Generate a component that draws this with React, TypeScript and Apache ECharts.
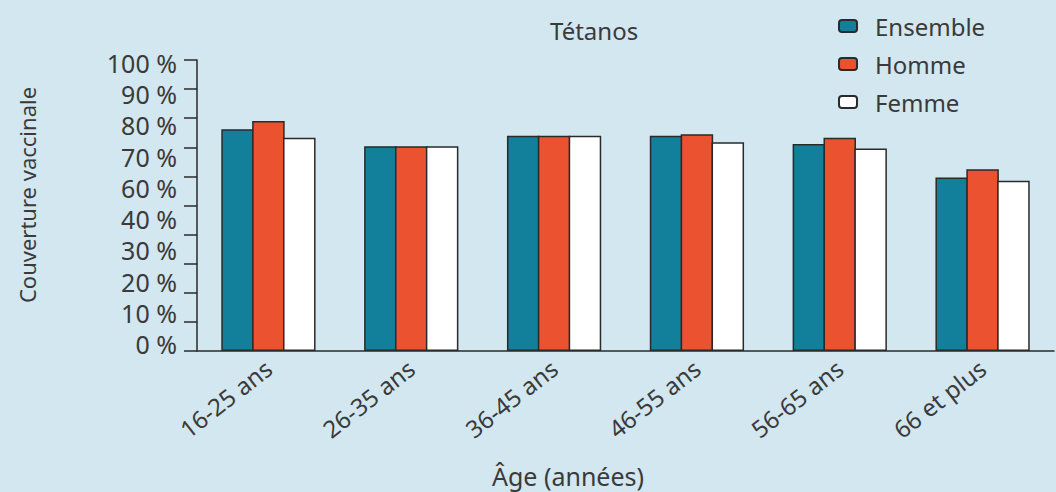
import React, { useEffect, useRef } from "react";
import * as echarts from "echarts";

const categories = ["16-25 ans", "26-35 ans", "36-45 ans", "46-55 ans", "56-65 ans", "66 et plus"];
const ensemble = [76.2, 70.4, 74.0, 74.0, 71.1, 59.6];
const homme = [79.0, 70.4, 74.0, 74.5, 73.3, 62.5];
const femme = [73.3, 70.4, 74.0, 71.7, 69.6, 58.5];
const yTickLabels = ["0 %", "10 %", "20 %", "30 %", "40 %", "60 %", "70 %", "80 %", "90 %", "100 %"];
const seriesNames = ["Ensemble", "Homme", "Femme"];
const chartTitle = "Tétanos";
const yAxisTitle = "Couverture vaccinale";
const xAxisTitle = "Âge (années)";

const FONT = "Noto Sans";
const TEXT = "#3a3a3a";
const LINE = "#2a2a2a";

export default function App() {
  const ref = useRef<HTMLDivElement>(null);
  useEffect(() => {
    if (!ref.current) return;
    const chart = echarts.init(ref.current, null, { renderer: "svg" });
    const barStyle = (color: string) => ({ color, borderColor: LINE, borderWidth: 1.5 });
    chart.setOption({
      animation: false,
      backgroundColor: "#d2e7f0",
      textStyle: { fontFamily: FONT, color: TEXT },
      legend: {
        orient: "vertical",
        left: 833,
        top: 8,
        itemWidth: 18,
        itemHeight: 12,
        itemGap: 12,
        data: seriesNames,
        textStyle: { fontFamily: FONT, fontSize: 24, color: TEXT, lineHeight: 26, padding: [0, 0, 0, 13] },
      },
      grid: [
        { left: 197, right: 2, top: 60, bottom: 141 },
        { left: 197, right: 2, top: 63, bottom: 148 },
      ],
      xAxis: [
        {
          type: "category",
          gridIndex: 0,
          data: categories,
          axisLine: { lineStyle: { color: LINE, width: 1.5 } },
          axisTick: { length: 12, lineStyle: { color: LINE, width: 1.5 } },
          axisLabel: { rotate: 38, interval: 0, margin: 14, fontSize: 24, fontFamily: FONT, color: TEXT },
        },
        { type: "value", gridIndex: 1, show: false },
      ],
      yAxis: [
        {
          type: "value",
          gridIndex: 0,
          min: 0,
          max: 100,
          interval: 10,
          axisLine: { show: true, lineStyle: { color: LINE, width: 1.5 } },
          axisTick: { show: true, length: 13, lineStyle: { color: LINE, width: 1.5 } },
          axisLabel: { show: false },
          splitLine: { show: false },
        },
        {
          type: "category",
          gridIndex: 1,
          data: yTickLabels,
          boundaryGap: false,
          axisLine: { show: false },
          axisTick: { show: false },
          splitLine: { show: false },
          axisLabel: { interval: 0, margin: 20, fontSize: 25, fontFamily: FONT, color: TEXT },
        },
      ],
      series: [
        { name: seriesNames[0], type: "bar", data: ensemble, barGap: "-5%", barCategoryGap: "34%", itemStyle: barStyle("#12809b") },
        { name: seriesNames[1], type: "bar", data: homme, barGap: "-5%", barCategoryGap: "34%", itemStyle: barStyle("#ea5230") },
        { name: seriesNames[2], type: "bar", data: femme, barGap: "-5%", barCategoryGap: "34%", itemStyle: barStyle("#ffffff") },
      ],
      graphic: [
        {
          type: "text",
          x: 550,
          y: 30,
          style: { text: chartTitle, font: `24px "${FONT}"`, fill: TEXT, align: "left", verticalAlign: "middle" },
        },
        {
          type: "text",
          x: 27,
          y: 195,
          rotation: Math.PI / 2,
          style: { text: yAxisTitle, font: `22px "${FONT}"`, fill: TEXT, align: "center", verticalAlign: "middle" },
        },
        {
          type: "text",
          x: 568,
          y: 476,
          style: { text: xAxisTitle, font: `25px "${FONT}"`, fill: TEXT, align: "center", verticalAlign: "middle" },
        },
      ],
    });
    return () => chart.dispose();
  }, []);
  return <div ref={ref} style={{ position: "fixed", left: 0, top: 0, width: 1056, height: 492 }} />;
}
